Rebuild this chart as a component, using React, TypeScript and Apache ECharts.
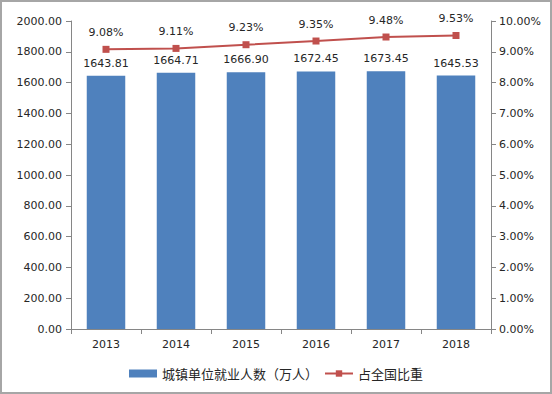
import React, { useEffect, useRef } from "react";
import * as echarts from "echarts";

const years = ["2013", "2014", "2015", "2016", "2017", "2018"];
const employed = [1643.81, 1664.71, 1666.9, 1672.45, 1673.45, 1645.53];
const share = [9.08, 9.11, 9.23, 9.35, 9.48, 9.53];
const barName = "城镇单位就业人数（万人）";
const lineName = "占全国比重";

const FONT = "'DejaVu Sans', 'Noto Sans CJK SC', sans-serif";
const TEXT = "#262626";
const AXIS = "#868686";

export default function App() {
  const ref = useRef<HTMLDivElement>(null);
  useEffect(() => {
    document.body.style.margin = "0";
    const chart = echarts.init(ref.current!, null, { renderer: "svg" });
    chart.setOption({
      animation: false,
      backgroundColor: "#ffffff",
      textStyle: { fontFamily: FONT, color: TEXT },
      graphic: [
        {
          type: "rect",
          shape: { x: 1, y: 1, width: 550, height: 392 },
          style: { fill: "none", stroke: "#a6a6a6", lineWidth: 2 },
          silent: true,
        },
      ],
      grid: { left: 71, right: 61, top: 21, bottom: 65, containLabel: false },
      legend: {
        bottom: 9,
        left: "center",
        itemGap: 6,
        itemWidth: 28,
        itemHeight: 8,
        textStyle: { fontFamily: "'Noto Sans CJK SC', sans-serif", fontSize: 13, color: TEXT },
        data: [
          { name: barName, icon: "rect" },
          { name: lineName },
        ],
      },
      xAxis: {
        type: "category",
        data: years,
        axisLine: { lineStyle: { color: AXIS } },
        axisTick: { show: true, alignWithLabel: false, length: 5, lineStyle: { color: AXIS } },
        axisLabel: { color: TEXT, fontFamily: FONT, fontSize: 11, margin: 10 },
      },
      yAxis: [
        {
          type: "value",
          min: 0,
          max: 2000,
          interval: 200,
          axisLine: { show: true, lineStyle: { color: AXIS } },
          axisTick: { show: true, length: 5, lineStyle: { color: AXIS } },
          splitLine: { show: false },
          axisLabel: {
            color: TEXT,
            fontFamily: FONT,
            fontSize: 11,
            margin: 9,
            formatter: (v: number) => v.toFixed(2),
          },
        },
        {
          type: "value",
          min: 0,
          max: 10,
          interval: 1,
          position: "right",
          axisLine: { show: true, lineStyle: { color: AXIS } },
          axisTick: { show: true, length: 5, lineStyle: { color: AXIS } },
          splitLine: { show: false },
          axisLabel: {
            color: TEXT,
            fontFamily: FONT,
            fontSize: 11,
            margin: 8,
            formatter: (v: number) => v.toFixed(2) + "%",
          },
        },
      ],
      series: [
        {
          name: barName,
          type: "bar",
          data: employed,
          barWidth: "55%",
          itemStyle: { color: "#4F81BD" },
          label: {
            show: true,
            position: "top",
            distance: 7,
            color: TEXT,
            fontFamily: FONT,
            fontSize: 11,
            formatter: (p: any) => Number(p.value).toFixed(2),
          },
        },
        {
          name: lineName,
          type: "line",
          yAxisIndex: 1,
          data: share,
          symbol: "rect",
          symbolSize: 7,
          lineStyle: { color: "#C0504D", width: 2 },
          itemStyle: { color: "#C0504D" },
          label: {
            show: true,
            position: "top",
            distance: 8,
            color: TEXT,
            fontFamily: FONT,
            fontSize: 11,
            formatter: (p: any) => Number(p.value).toFixed(2) + "%",
          },
        },
      ],
    });
    return () => chart.dispose();
  }, []);
  return <div ref={ref} style={{ width: 552, height: 394 }} />;
}
